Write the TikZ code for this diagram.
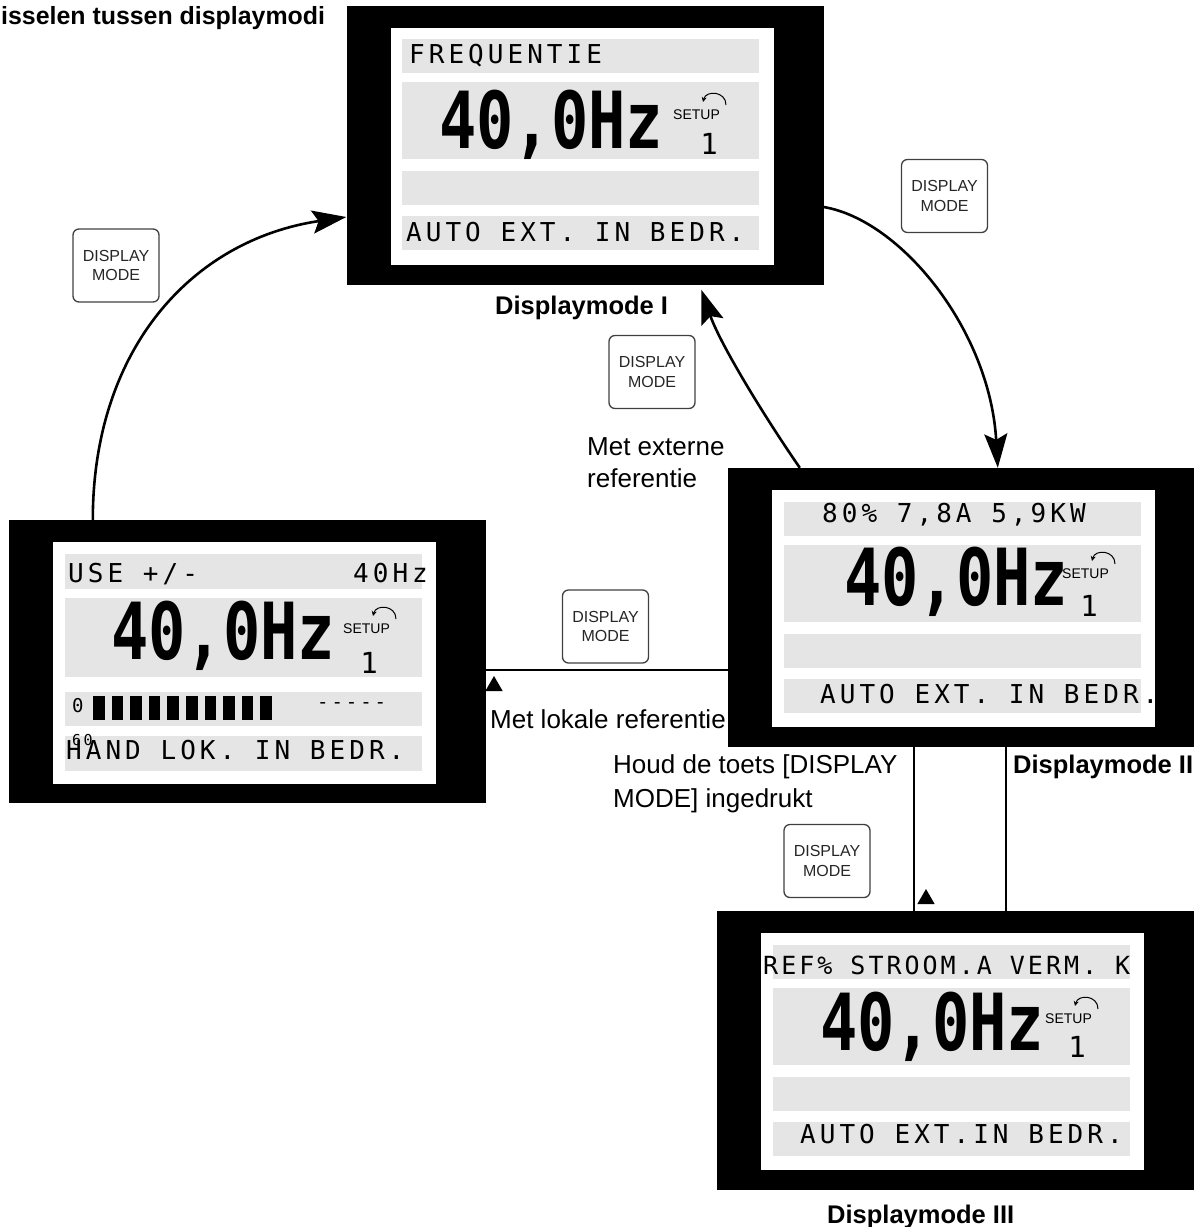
\documentclass[tikz,border=0pt]{standalone}
\usepackage{fontspec}
\setmainfont{Liberation Sans}
\newfontfamily\lcdfont[LetterSpace=15.5]{DejaVu Sans Mono}
\newfontfamily\lcdtight[LetterSpace=12]{DejaVu Sans Mono}
\newfontfamily\lcdplain{DejaVu Sans Mono}
\usepackage{graphicx}
\usepackage{tikz}
\usetikzlibrary{arrows.meta,shapes.geometric}
\usepackage{xcolor}

\begin{document}
\begin{tikzpicture}[x=1pt,y=-1pt,
  lcdframe/.style={fill=black,inner sep=0pt,minimum width=477pt,minimum height=279pt},
  lcdglass/.style={fill=white,inner sep=0pt,minimum width=383pt,minimum height=237pt,anchor=north west},
  balk/.style={fill=black!10},
  lcdtext/.style={inner sep=0pt,anchor=base west,font=\fontsize{26}{26}\lcdfont},
  lcdklein/.style={inner sep=0pt,anchor=base west,font=\fontsize{19}{19}\lcdfont},
  bigread/.style={inner sep=0pt,anchor=base west,font=\fontsize{62}{62}\lcdplain\bfseries},
  setuptxt/.style={inner sep=0pt,anchor=base west,font=\fontsize{14}{14}\selectfont},
  setno/.style={inner sep=0pt,anchor=base,font=\fontsize{29}{29}\lcdplain},
  krul/.style={line width=1pt,-{Stealth[length=5pt,width=5pt]}},
  knop/.style={draw=black!75,line width=1.3pt,rounded corners=6pt,minimum width=86pt,minimum height=73pt,inner sep=0pt,align=center,text=black!85,font=\fontsize{16}{19.5}\selectfont},
  tekst/.style={inner sep=0pt,anchor=base west,font=\fontsize{26}{26}\selectfont},
  kop/.style={inner sep=0pt,anchor=base west,font=\fontsize{25.5}{25.5}\selectfont\bfseries},
  lijn/.style={line width=2.6pt},
  pijl/.style={line width=2.6pt,-{Stealth[length=34pt,width=23pt,inset=6pt]}},
  driehoek/.style={regular polygon,regular polygon sides=3,fill=black,inner sep=0pt,minimum size=20pt}]
\useasboundingbox (0,0) rectangle (1194,1227);
\clip (0,0) rectangle (1194,1227);

\node[lcdframe] (dI) at (585,145) {};
\node[lcdframe,minimum height=283pt] (dL) at (247.5,661.5) {};
\node[lcdframe] (dII) at (966.5,607.5) {};
\node[lcdframe] (dIII) at (955.5,1050.5) {};
\node[lcdglass] (gI) at ([xshift=44pt,yshift=-22pt]dI.north west) {};
\node[lcdglass,minimum height=242pt] (gL) at ([xshift=44pt,yshift=-22pt]dL.north west) {};
\node[lcdglass] (gII) at ([xshift=44pt,yshift=-22pt]dII.north west) {};
\node[lcdglass] (gIII) at ([xshift=44pt,yshift=-22pt]dIII.north west) {};
\foreach \g in {gI,gII,gIII}
  \foreach \dy/\h in {12/34,55/77,144/34,189/34}
    \fill[balk] ([xshift=12pt,yshift=-\dy pt]\g.north west) rectangle ++(357,\h);
\foreach \dy/\h in {12/35,56/79,150/34,194/35}
  \fill[balk] ([xshift=12pt,yshift=-\dy pt]gL.north west) rectangle ++(357,\h);

\node[lcdtext] (fI) at (409,63) {FREQUENTIE};
\node[bigread] (hzI) at (439,148) {\scalebox{1}[1.27]{40,0Hz}};
\node[setuptxt] (sI) at (673,119) {SETUP};
\node[setno] (nI) at (709,154) {1};
\node[lcdtext] (aI) at (406,241) {AUTO EXT. IN BEDR.};

\node[lcdtext] (uL) at (68,582) {USE +/-};
\node[lcdtext] (fL) at (353,582) {40Hz};
\node[bigread] (hzL) at (111,659) {\scalebox{1}[1.27]{40,0Hz}};
\node[setuptxt] (sL) at (343,633) {SETUP};
\node[setno] (nL) at (369,673) {1};
\node[lcdklein] (zL) at (72,712) {0};
\foreach \i in {0,...,9} \fill (93+\i*18.6,696) rectangle ++(11.5,24);
\node[lcdklein] (dashL) at (317,708) {-{}-{}-{}-{}-};
\node[lcdklein,font=\fontsize{15}{15}\lcdfont] (sixL) at (72,745) {60};
\node[lcdtext] (hL) at (66,759) {HAND LOK. IN BEDR.};

\node[lcdtext] (pII) at (822,522) {80\% 7,8A 5,9KW};
\node[bigread] (hzII) at (844,605) {\scalebox{1}[1.27]{40,0Hz}};
\node[setuptxt] (sII) at (1062,578) {SETUP};
\node[setno] (nII) at (1089,616) {1};
\node[lcdtext] (aII) at (820,703) {AUTO EXT. IN BEDR.};

\node[lcdtext,font=\fontsize{25}{25}\lcdtight] (rIII) at (763,974) {REF\% STROOM.A VERM. K};
\node[bigread] (hzIII) at (820,1050) {\scalebox{1}[1.27]{40,0Hz}};
\node[setuptxt] (sIII) at (1045,1023) {SETUP};
\node[setno] (nIII) at (1077,1057) {1};
\node[lcdtext] (aIII) at (800,1143) {AUTO EXT.IN BEDR.};

\foreach \s in {sI,sL,sII,sIII}
  \draw[krul] ([xshift=53pt,yshift=14pt]\s.base west) .. controls +(0,-14) and +(3,-12) .. ([xshift=30pt,yshift=17pt]\s.base west);

\node[knop] (kI) at (116,265.5) {DISPLAY\\MODE};
\node[knop] (kII) at (944.5,196) {DISPLAY\\MODE};
\node[knop] (kIII) at (652,372) {DISPLAY\\MODE};
\node[knop] (kIV) at (605.5,626.5) {DISPLAY\\MODE};
\node[knop] (kV) at (827,861) {DISPLAY\\MODE};

\node[kop,font=\fontsize{24.9}{24.9}\selectfont\bfseries] (titel) at (1,24) {isselen tussen displaymodi};
\node[kop] (mI) at (495,314) {Displaymode I};
\node[kop] (mII) at (1013,773) {Displaymode II};
\node[kop] (mIII) at (827,1223) {Displaymode III};
\node[tekst] (ext1) at (587,455) {Met externe};
\node[tekst] (ext2) at (587,487) {referentie};
\node[tekst] (lok) at (490,728) {Met lokale referentie};
\node[tekst] (houd1) at (613,773) {Houd de toets [DISPLAY};
\node[tekst] (houd2) at (613,807) {MODE] ingedrukt};

\draw[pijl] ([xshift=84pt]dL.north west) .. controls +(0,-170) and +(-155,23) .. ([yshift=-72pt]dI.west);
\draw[pijl] ([yshift=-62pt]dI.east) .. controls +(77,13) and +(-8,-138) .. ([xshift=270pt]dII.north west);
\draw[pijl] ([xshift=72pt]dII.north west) .. controls +(-40,-58) and +(18,52) .. ([xshift=355pt,yshift=-5pt]dI.south west);
\draw[lijn] ([yshift=-62.5pt]dII.west) coordinate (hr) -- (hr -| dL.east);
\draw[lijn] ([xshift=186pt]dII.south west) coordinate (v1) -- (v1 |- dIII.north);
\draw[lijn] ([xshift=278pt]dII.south west) coordinate (v2) -- (v2 |- dIII.north);
\node[driehoek] (tL) at (494,686) {};
\node[driehoek] (tIII) at (926,899) {};
\end{tikzpicture}
\end{document}
